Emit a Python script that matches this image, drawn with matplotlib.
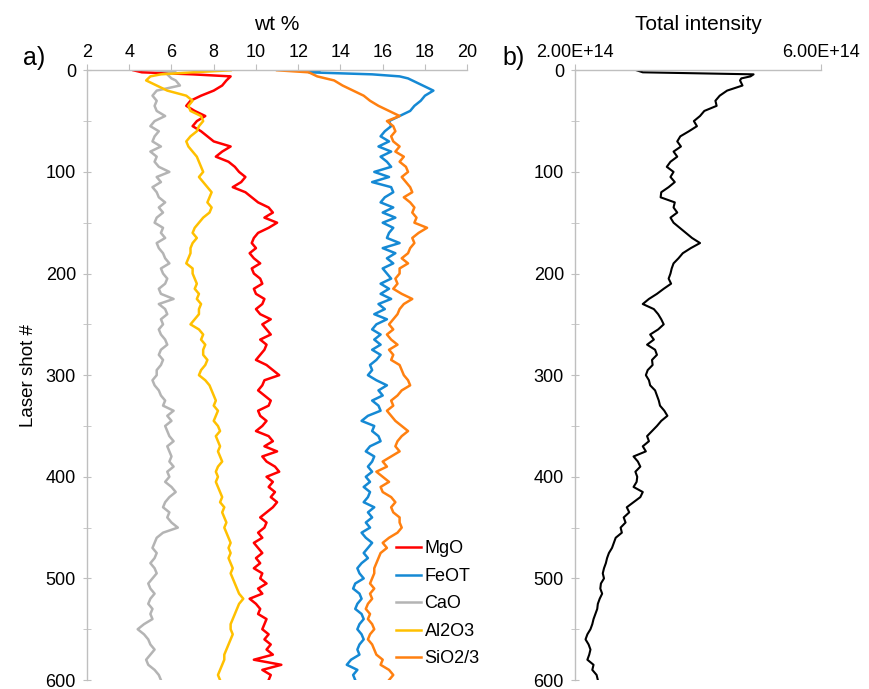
"""Perfil de ablacion laser: composicion (wt %) e intensidad total vs numero de disparo."""

import matplotlib

matplotlib.use("Agg")
import matplotlib.pyplot as plt
from matplotlib.ticker import MultipleLocator, FixedLocator

plt.rcParams["font.family"] = ["Liberation Sans", "DejaVu Sans"]

# Numero de disparo (eje vertical, invertido)
disparos = [0, 2, 4, 6, 8] + list(range(10, 601, 5))

mgo = [
    4.2, 4.6, 7.0, 8.8, 8.7,
    8.6, 8.4, 8.0, 7.4, 6.9, 6.7, 7.1, 7.6, 7.2, 7.0,
    7.4, 7.7, 8.0, 8.8, 8.4, 8.1, 8.7, 9.0, 9.2, 9.5,
    9.3, 8.9, 9.5, 9.8, 10.1, 10.6, 10.8, 10.4, 11.0, 10.6,
    10.1, 9.9, 9.8, 10.0, 9.7, 9.9, 10.2, 9.8, 9.9, 10.2,
    10.3, 9.9, 10.0, 10.4, 10.3, 10.0, 10.2, 10.7, 10.3, 10.5,
    10.7, 10.2, 10.5, 10.4, 10.2, 10.0, 10.5, 10.8, 11.1, 10.4,
    10.3, 10.1, 10.4, 10.7, 10.6, 10.1, 10.2, 10.5, 10.3, 10.0,
    10.6, 10.8, 10.4, 11.0, 10.3, 10.5, 10.9, 11.1, 10.5, 10.8,
    10.6, 10.9, 10.7, 11.0, 10.8, 10.5, 10.2, 10.5, 10.4, 10.1,
    10.3, 9.9, 10.1, 10.3, 10.0, 10.2, 9.9, 10.3, 10.2, 10.5,
    10.1, 10.3, 9.7, 10.0, 10.2, 10.1, 10.5, 10.4, 10.3, 10.6,
    10.4, 10.7, 10.5, 10.8, 9.9, 11.2, 10.3, 10.7, 10.6,
]

feot = [
    13.0, 12.5, 15.5, 16.8, 17.2,
    17.4, 17.9, 18.4, 18.0, 17.8, 17.5, 17.3, 16.8, 16.3, 16.4,
    16.1, 15.9, 16.3, 15.8, 16.4, 15.9, 16.2, 16.4, 15.6, 16.3,
    15.5, 16.4, 16.5, 16.1, 15.9, 16.5, 16.0, 16.6, 16.0, 16.5,
    16.3, 16.2, 16.8, 16.0, 16.6, 16.2, 16.5, 16.0, 16.2, 16.4,
    15.9, 16.3, 15.9, 16.4, 15.8, 16.1, 15.6, 16.2, 15.7, 15.5,
    15.9, 15.6, 15.9, 15.5, 15.9, 15.7, 15.4, 15.5, 15.3, 15.7,
    16.2, 15.8, 16.0, 15.5, 15.8, 15.9, 15.3, 15.0, 15.6, 15.5,
    15.8, 15.9, 15.4, 15.2, 15.6, 15.5, 15.3, 15.5, 15.2, 15.4,
    15.1, 15.4, 15.3, 15.1, 15.6, 15.3, 15.5, 15.2, 15.4, 15.0,
    15.2, 15.5, 15.3, 15.1, 15.3, 15.0, 14.8, 14.9, 15.1, 14.7,
    14.6, 14.9, 15.0, 14.8, 14.7, 15.0, 15.1, 14.9, 14.8, 15.0,
    15.1, 14.9, 14.8, 14.9, 14.5, 14.3, 14.8, 14.6, 14.7,
]

cao = [
    5.3, 6.2, 5.8, 5.9, 6.0,
    6.2, 6.4, 5.3, 5.1, 5.3, 5.2, 5.3, 5.7, 5.2, 5.0,
    5.4, 5.2, 5.1, 5.5, 5.0, 5.3, 5.2, 5.4, 5.9, 5.3,
    5.5, 5.1, 5.3, 5.4, 5.7, 5.4, 5.6, 5.3, 5.2, 5.6,
    5.5, 5.7, 5.3, 5.4, 5.6, 5.7, 5.9, 5.5, 5.6, 5.8,
    5.7, 5.4, 5.5, 6.1, 5.4, 5.7, 5.8, 5.5, 5.6, 5.4,
    5.5, 5.7, 5.8, 5.5, 5.4, 5.6, 5.5, 5.3, 5.3, 5.1,
    5.2, 5.4, 5.5, 5.7, 5.6, 6.1, 5.8, 6.0, 5.7, 5.8,
    5.9, 6.1, 5.8, 5.9, 6.0, 5.9, 6.1, 5.8, 5.9, 5.7,
    6.0, 6.2, 5.9, 5.7, 5.6, 5.9, 5.8, 6.0, 6.3, 5.6,
    5.3, 5.2, 5.1, 5.3, 5.2, 5.0, 5.2, 5.3, 5.1, 4.9,
    5.0, 5.2, 5.0, 4.9, 5.1, 5.0, 5.1, 4.7, 4.4, 4.7,
    4.9, 5.0, 5.2, 5.0, 4.8, 4.9, 5.2, 5.4, 5.5,
]

al2o3 = [
    8.8, 7.0, 5.5, 5.0, 4.9,
    4.8, 5.3, 5.8, 6.7, 7.0, 6.8, 6.9, 7.4, 7.5, 7.3,
    7.2, 6.9, 6.7, 6.8, 7.0, 7.2, 7.3, 7.4, 7.5, 7.3,
    7.5, 7.7, 7.9, 7.8, 7.7, 7.9, 7.8, 7.5, 7.3, 7.1,
    7.0, 7.2, 7.0, 6.9, 6.9, 6.8, 6.7, 7.0, 7.0, 7.1,
    7.2, 7.1, 7.3, 7.2, 7.4, 7.3, 7.3, 7.1, 6.9, 7.3,
    7.5, 7.4, 7.6, 7.5, 7.5, 7.7, 7.6, 7.4, 7.3, 7.6,
    7.8, 7.9, 8.0, 8.1, 8.0, 8.2, 8.1, 8.0, 8.2, 8.3,
    8.1, 8.2, 8.3, 8.2, 8.3, 8.4, 8.2, 8.1, 8.2, 8.1,
    8.2, 8.3, 8.4, 8.3, 8.5, 8.4, 8.5, 8.6, 8.5, 8.6,
    8.7, 8.8, 8.7, 8.8, 8.7, 8.8, 8.9, 8.8, 8.9, 9.0,
    9.1, 9.2, 9.4, 9.2, 9.1, 9.0, 8.9, 8.8, 8.8, 8.9,
    8.8, 8.7, 8.6, 8.5, 8.5, 8.4, 8.3, 8.2, 8.3,
]

sio2_3 = [
    11.0, 12.5, 12.7, 12.9, 13.3,
    13.7, 14.1, 14.6, 15.1, 15.4, 15.8, 16.3, 16.8, 16.2, 16.5,
    16.6, 16.4, 16.5, 16.8, 16.6, 17.0, 16.8, 17.1, 17.2, 16.9,
    17.1, 17.3, 17.4, 17.0, 17.3, 17.5, 17.4, 17.6, 17.5, 18.1,
    17.7, 17.4, 17.5, 17.3, 17.2, 16.9, 17.2, 16.8, 16.8, 16.6,
    16.7, 16.5, 16.9, 17.4, 17.0, 16.8, 16.7, 16.5, 16.3, 16.5,
    16.2, 16.4, 16.7, 16.3, 16.5, 16.4, 16.8, 16.9, 17.0, 17.2,
    17.3, 16.9, 16.7, 16.4, 16.5, 16.2, 16.4, 16.6, 16.9, 17.2,
    16.9, 16.7, 16.6, 16.8, 16.4, 16.0, 16.2, 15.7, 16.0, 16.3,
    15.9, 16.0, 16.4, 16.6, 16.4, 16.5, 16.8, 16.8, 16.9, 16.7,
    16.3, 16.0, 16.2, 15.9, 15.8, 15.7, 15.6, 15.6, 15.5, 15.4,
    15.6, 15.4, 15.5, 15.3, 15.2, 15.4, 15.3, 15.5, 15.6, 15.4,
    15.3, 15.5, 15.6, 15.7, 16.0, 15.9, 16.3, 16.5, 16.3,
]

# Intensidad total en unidades de 1E+14
intensidad_e14 = [
    3.0, 3.1, 4.9, 4.85, 4.7,
    4.68, 4.72, 4.47, 4.35, 4.28, 4.3, 4.1, 4.03, 3.93, 3.98,
    3.85, 3.71, 3.66, 3.72, 3.6, 3.66, 3.55, 3.49, 3.6, 3.55,
    3.62, 3.52, 3.4, 3.39, 3.62, 3.6, 3.66, 3.55, 3.6, 3.7,
    3.8, 3.9, 4.03, 3.88, 3.75, 3.68, 3.6, 3.57, 3.55, 3.52,
    3.56, 3.44, 3.33, 3.2, 3.1, 3.28, 3.35, 3.4, 3.44, 3.35,
    3.22, 3.28, 3.17, 3.3, 3.33, 3.25, 3.26, 3.18, 3.15, 3.2,
    3.22, 3.3, 3.33, 3.36, 3.38, 3.45, 3.5, 3.4, 3.33, 3.25,
    3.17, 3.2, 3.1, 3.15, 2.95, 3.02, 3.06, 2.98, 3.01, 3.0,
    2.95, 3.1, 3.06, 2.95, 2.84, 2.88, 2.79, 2.82, 2.74, 2.76,
    2.66, 2.63, 2.6, 2.55, 2.52, 2.5, 2.47, 2.45, 2.47, 2.42,
    2.41, 2.44, 2.4, 2.37, 2.36, 2.33, 2.3, 2.28, 2.25, 2.2,
    2.17, 2.22, 2.25, 2.23, 2.2, 2.3, 2.28, 2.35, 2.37,
]

SERIES = [
    ("MgO", mgo, "#ff0000"),
    ("FeOT", feot, "#1589d4"),
    ("CaO", cao, "#b4b4b4"),
    ("Al2O3", al2o3, "#ffc000"),
    ("SiO2/3", sio2_3, "#ff8010"),
]

GRIS_EJE = "#bfbfbf"
TAM_TICKS = 13
TAM_TITULO = 15


def _estilo_ejes(ax) -> None:
    """Ejes tipo Excel: solo linea izquierda y superior, en gris."""
    for lado in ("right", "bottom"):
        ax.spines[lado].set_visible(False)
    for lado in ("left", "top"):
        ax.spines[lado].set_color(GRIS_EJE)
        ax.spines[lado].set_linewidth(1.0)
    ax.xaxis.tick_top()
    ax.xaxis.set_label_position("top")
    ax.set_ylim(600, 0)
    ax.yaxis.set_major_locator(MultipleLocator(100))
    ax.yaxis.set_minor_locator(MultipleLocator(50))
    ax.tick_params(axis="y", which="both", direction="inout", length=6,
                   color=GRIS_EJE, labelsize=TAM_TICKS, pad=5)
    ax.tick_params(axis="x", which="both", direction="out", length=4,
                   color=GRIS_EJE, labelsize=TAM_TICKS, pad=3)


def graficar_composicion(ax) -> None:
    for nombre, valores, color in SERIES:
        ax.plot(valores, disparos, color=color, lw=1.8, label=nombre)
    _estilo_ejes(ax)
    ax.set_xlim(2, 20)
    ax.xaxis.set_major_locator(MultipleLocator(2))
    ax.set_xlabel("wt %", fontsize=TAM_TITULO, labelpad=10)
    ax.set_ylabel("Laser shot #", fontsize=13.5, labelpad=6)
    ax.legend(loc="upper left", bbox_to_anchor=(0.812, 0.229), frameon=False,
              fontsize=TAM_TICKS, handlelength=1.4, handletextpad=0.2,
              labelspacing=0.58, borderpad=0, borderaxespad=0)


def graficar_intensidad(ax) -> None:
    intensidad = [v * 1e14 for v in intensidad_e14]
    ax.plot(intensidad, disparos, color="black", lw=1.5)
    _estilo_ejes(ax)
    ax.set_xlim(2e14, 6e14)
    ax.xaxis.set_major_locator(FixedLocator([2e14, 6e14]))
    ax.set_xticklabels(["2.00E+14", "6.00E+14"])
    ax.set_xlabel("Total intensity", fontsize=TAM_TITULO, labelpad=10)


def main() -> None:
    fig = plt.figure(figsize=(8.7, 6.89), dpi=100)
    ax_a = fig.add_axes([0.1, 0.013, 0.437, 0.885])
    ax_b = fig.add_axes([0.661, 0.013, 0.283, 0.885])
    graficar_composicion(ax_a)
    graficar_intensidad(ax_b)
    fig.text(0.027, 0.916, "a)", fontsize=18, va="center")
    fig.text(0.578, 0.916, "b)", fontsize=18, va="center")
    fig.savefig("out.png", dpi=100)


if __name__ == "__main__":
    main()
